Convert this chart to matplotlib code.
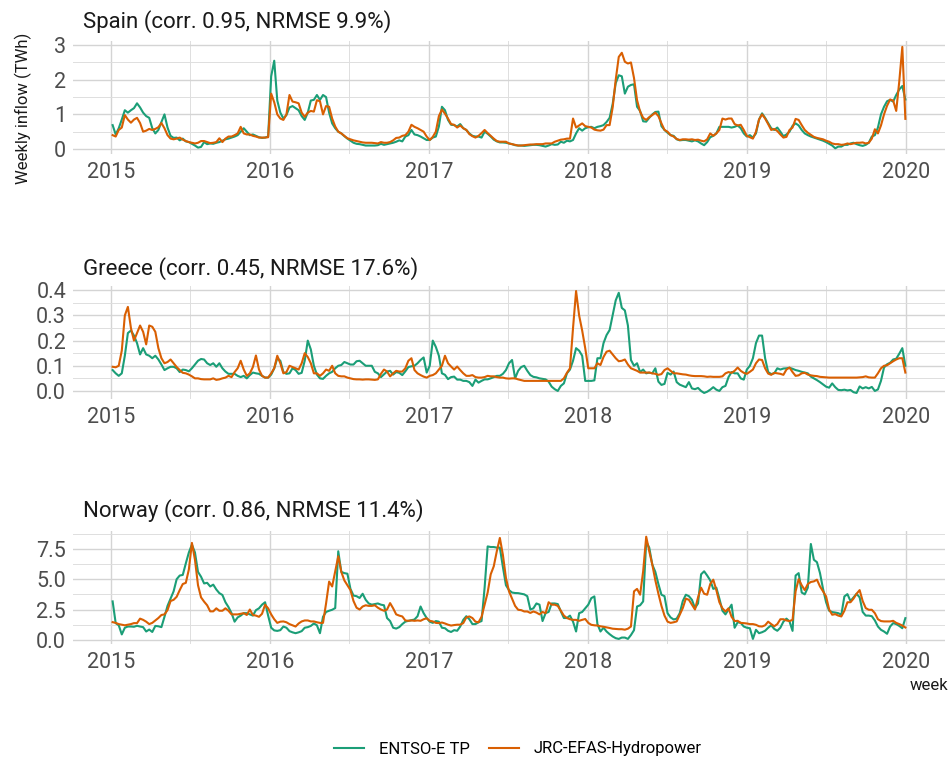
import matplotlib
matplotlib.use('Agg')
import matplotlib.pyplot as plt
import matplotlib.dates as mdates
from matplotlib.ticker import FixedLocator, FormatStrFormatter
import pandas as pd

plt.rcParams['font.family'] = ['Roboto', 'DejaVu Sans']

# weekly time axis (Mondays)
weeks = pd.date_range('2015-01-05', '2019-12-30', freq='W-MON')

# ---- Spain (TWh) ----
spain_entsoe = [
    # 2015
    0.69, 0.42, 0.6, 0.85, 1.12, 1.05, 1.12, 1.18, 1.32, 1.2, 1.05, 0.95, 0.9, 0.6, 0.45, 0.55, 0.78, 1.0,
    0.62, 0.38, 0.32, 0.33, 0.25, 0.3, 0.22, 0.2, 0.15, 0.1, 0.04, 0.06, 0.2, 0.14, 0.16, 0.15, 0.18, 0.2,
    0.24, 0.28, 0.3, 0.33, 0.36, 0.4, 0.5, 0.6, 0.5, 0.4, 0.42, 0.38, 0.34, 0.32, 0.33, 0.36,
    # 2016
    2.1, 2.55, 1.4, 1.05, 0.88, 0.98, 1.2, 1.24, 1.18, 1.12, 0.95, 0.84, 1.05, 1.4, 1.42, 1.56, 1.42, 1.56,
    1.5, 1.05, 0.74, 0.6, 0.5, 0.45, 0.37, 0.3, 0.24, 0.18, 0.15, 0.14, 0.12, 0.1, 0.1, 0.1, 0.1, 0.11,
    0.15, 0.12, 0.14, 0.16, 0.18, 0.21, 0.25, 0.22, 0.36, 0.4, 0.55, 0.42, 0.4, 0.36, 0.31, 0.26,
    # 2017
    0.26, 0.33, 0.36, 0.65, 1.22, 1.12, 0.84, 0.7, 0.69, 0.65, 0.72, 0.6, 0.55, 0.45, 0.38, 0.36, 0.36, 0.33,
    0.5, 0.44, 0.36, 0.27, 0.22, 0.19, 0.19, 0.18, 0.16, 0.14, 0.11, 0.1, 0.1, 0.09, 0.1, 0.11, 0.12, 0.12,
    0.11, 0.09, 0.07, 0.1, 0.14, 0.12, 0.13, 0.21, 0.18, 0.24, 0.22, 0.26, 0.45, 0.6, 0.53, 0.6,
    # 2018
    0.63, 0.64, 0.6, 0.64, 0.66, 0.69, 0.78, 0.9, 1.3, 1.9, 2.13, 2.1, 1.6, 1.8, 1.85, 1.87, 1.22, 1.1,
    0.8, 0.79, 0.9, 1.0, 1.07, 1.08, 0.66, 0.55, 0.47, 0.4, 0.38, 0.28, 0.25, 0.26, 0.26, 0.24, 0.22, 0.25,
    0.22, 0.16, 0.11, 0.2, 0.34, 0.38, 0.45, 0.64, 0.64, 0.64, 0.64, 0.62, 0.64, 0.68, 0.6, 0.45, 0.36,
    # 2019
    0.4, 0.33, 0.45, 0.85, 1.03, 0.9, 0.75, 0.6, 0.55, 0.62, 0.5, 0.37, 0.42, 0.5, 0.67, 0.74, 0.68, 0.55,
    0.45, 0.4, 0.36, 0.33, 0.3, 0.27, 0.24, 0.2, 0.15, 0.1, 0.02, 0.07, 0.07, 0.12, 0.12, 0.16, 0.18, 0.14,
    0.11, 0.09, 0.12, 0.18, 0.36, 0.4, 0.62, 1.0, 1.22, 1.38, 1.42, 1.37, 1.56, 1.72, 1.82, 1.43,
]
spain_jrc = [
    # 2015
    0.4, 0.36, 0.55, 0.62, 0.98, 0.85, 0.76, 0.85, 0.9, 0.75, 0.5, 0.53, 0.58, 0.55, 0.58, 0.63, 0.75, 0.6,
    0.4, 0.3, 0.28, 0.3, 0.33, 0.27, 0.23, 0.2, 0.18, 0.16, 0.18, 0.23, 0.23, 0.2, 0.17, 0.18, 0.2, 0.31,
    0.2, 0.3, 0.36, 0.36, 0.4, 0.45, 0.64, 0.45, 0.42, 0.42, 0.38, 0.36, 0.33, 0.33, 0.33, 0.34,
    # 2016
    1.6, 1.35, 1.0, 0.88, 0.84, 1.0, 1.56, 1.37, 1.35, 1.32, 1.05, 0.93, 1.05, 1.1, 1.08, 1.41, 1.38, 1.0,
    1.24, 1.22, 0.88, 0.65, 0.5, 0.45, 0.38, 0.31, 0.28, 0.25, 0.23, 0.21, 0.19, 0.18, 0.18, 0.18, 0.17, 0.16,
    0.2, 0.18, 0.18, 0.2, 0.25, 0.32, 0.33, 0.38, 0.4, 0.5, 0.7, 0.64, 0.6, 0.55, 0.5, 0.36,
    # 2017
    0.26, 0.35, 0.5, 0.95, 1.14, 1.02, 0.88, 0.72, 0.7, 0.62, 0.68, 0.6, 0.55, 0.43, 0.37, 0.33, 0.38, 0.46,
    0.55, 0.46, 0.38, 0.3, 0.23, 0.21, 0.21, 0.21, 0.16, 0.14, 0.12, 0.1, 0.1, 0.11, 0.12, 0.13, 0.13, 0.14,
    0.14, 0.14, 0.16, 0.16, 0.16, 0.21, 0.24, 0.27, 0.28, 0.3, 0.3, 0.88, 0.62, 0.68, 0.74, 0.66,
    # 2018
    0.64, 0.62, 0.56, 0.54, 0.53, 0.56, 0.69, 0.69, 1.2, 2.0, 2.66, 2.78, 2.52, 2.47, 2.5, 2.05, 1.41, 1.08,
    0.9, 0.84, 0.92, 0.98, 1.05, 0.95, 0.74, 0.55, 0.5, 0.4, 0.36, 0.29, 0.26, 0.28, 0.28, 0.27, 0.28, 0.26,
    0.27, 0.24, 0.22, 0.28, 0.45, 0.38, 0.45, 0.55, 0.88, 0.85, 0.88, 0.88, 0.72, 0.68, 0.7, 0.55, 0.38,
    # 2019
    0.34, 0.3, 0.5, 0.85, 1.0, 0.88, 0.72, 0.55, 0.58, 0.52, 0.42, 0.33, 0.35, 0.55, 0.62, 0.87, 0.84, 0.69,
    0.55, 0.47, 0.41, 0.35, 0.32, 0.3, 0.28, 0.24, 0.21, 0.16, 0.14, 0.14, 0.12, 0.13, 0.16, 0.14, 0.16, 0.18,
    0.18, 0.19, 0.16, 0.18, 0.3, 0.57, 0.45, 0.68, 1.0, 1.25, 1.43, 1.4, 1.1, 1.95, 2.95, 0.87,
]

# ---- Greece (TWh) ----
greece_entsoe = [
    # 2015
    0.083, 0.07, 0.06, 0.07, 0.14, 0.23, 0.24, 0.22, 0.19, 0.145, 0.17, 0.145, 0.14, 0.13, 0.14, 0.125,
    0.105, 0.083, 0.09, 0.096, 0.096, 0.09, 0.075, 0.085, 0.083, 0.078, 0.09, 0.105, 0.12, 0.127, 0.125,
    0.11, 0.103, 0.11, 0.096, 0.11, 0.09, 0.077, 0.068, 0.068, 0.068, 0.06, 0.055, 0.06, 0.05, 0.063,
    0.073, 0.07, 0.068, 0.06, 0.053, 0.053,
    # 2016
    0.065, 0.09, 0.13, 0.12, 0.075, 0.068, 0.07, 0.09, 0.083, 0.068, 0.072, 0.12, 0.2, 0.165, 0.1, 0.065,
    0.05, 0.048, 0.06, 0.07, 0.076, 0.09, 0.1, 0.103, 0.115, 0.11, 0.105, 0.105, 0.118, 0.12, 0.11, 0.1,
    0.1, 0.1, 0.076, 0.07, 0.055, 0.066, 0.077, 0.08, 0.065, 0.075, 0.072, 0.063, 0.078, 0.095, 0.098,
    0.1, 0.11, 0.123, 0.133, 0.073,
    # 2017
    0.1, 0.2, 0.175, 0.14, 0.07, 0.064, 0.047, 0.055, 0.057, 0.045, 0.045, 0.04, 0.04, 0.035, 0.02, 0.045,
    0.033, 0.04, 0.046, 0.046, 0.05, 0.055, 0.06, 0.06, 0.068, 0.083, 0.11, 0.123, 0.05, 0.08, 0.095, 0.1,
    0.08, 0.063, 0.056, 0.054, 0.05, 0.048, 0.046, 0.037, 0.017, 0.007, 0.0, 0.02, 0.03, 0.07, 0.085,
    0.12, 0.17, 0.16, 0.14, 0.04,
    # 2018
    0.04, 0.04, 0.042, 0.13, 0.13, 0.19, 0.222, 0.242, 0.3, 0.36, 0.39, 0.33, 0.32, 0.26, 0.123, 0.1, 0.11,
    0.075, 0.085, 0.07, 0.073, 0.07, 0.09, 0.037, 0.024, 0.028, 0.072, 0.065, 0.077, 0.035, 0.025, 0.02,
    0.015, 0.035, 0.01, 0.007, 0.012, 0.0, -0.008, -0.003, 0.005, 0.015, 0.005, 0.0, 0.015, 0.02, 0.055,
    0.075, 0.07, 0.07, 0.05, 0.045, 0.085,
    # 2019
    0.1, 0.13, 0.19, 0.22, 0.22, 0.13, 0.075, 0.067, 0.07, 0.09, 0.085, 0.089, 0.09, 0.092, 0.088, 0.083,
    0.08, 0.076, 0.073, 0.07, 0.057, 0.05, 0.043, 0.035, 0.026, 0.017, 0.013, 0.03, 0.015, 0.004, 0.003,
    0.005, 0.002, 0.004, -0.005, -0.008, 0.018, 0.01, 0.015, 0.01, 0.016, 0.0, 0.006, 0.04, 0.093, 0.106,
    0.112, 0.125, 0.128, 0.148, 0.17, 0.1,
]
greece_jrc = [
    # 2015
    0.096, 0.094, 0.1, 0.16, 0.3, 0.334, 0.25, 0.2, 0.23, 0.26, 0.235, 0.185, 0.26, 0.255, 0.235, 0.17,
    0.13, 0.11, 0.115, 0.125, 0.11, 0.095, 0.083, 0.072, 0.07, 0.065, 0.058, 0.05, 0.05, 0.047, 0.046,
    0.046, 0.046, 0.05, 0.044, 0.046, 0.05, 0.053, 0.06, 0.055, 0.075, 0.09, 0.12, 0.085, 0.06, 0.07,
    0.095, 0.141, 0.085, 0.06, 0.053, 0.053,
    # 2016
    0.07, 0.09, 0.14, 0.11, 0.07, 0.075, 0.1, 0.095, 0.09, 0.085, 0.11, 0.15, 0.135, 0.11, 0.07, 0.07,
    0.06, 0.07, 0.085, 0.08, 0.1, 0.07, 0.06, 0.058, 0.058, 0.053, 0.05, 0.047, 0.046, 0.046, 0.045, 0.046,
    0.046, 0.045, 0.044, 0.046, 0.068, 0.085, 0.077, 0.058, 0.07, 0.08, 0.077, 0.077, 0.09, 0.12, 0.13,
    0.083, 0.07, 0.063, 0.057, 0.053,
    # 2017
    0.06, 0.063, 0.07, 0.085, 0.1, 0.14, 0.11, 0.097, 0.085, 0.097, 0.083, 0.07, 0.06, 0.06, 0.063, 0.055,
    0.053, 0.053, 0.055, 0.06, 0.058, 0.058, 0.055, 0.053, 0.053, 0.05, 0.049, 0.05, 0.05, 0.046, 0.043,
    0.04, 0.04, 0.04, 0.04, 0.04, 0.04, 0.04, 0.04, 0.04, 0.04, 0.04, 0.04, 0.04, 0.05, 0.072, 0.09,
    0.25, 0.397, 0.3, 0.24, 0.17,
    # 2018
    0.09, 0.09, 0.09, 0.11, 0.103, 0.135, 0.156, 0.16, 0.145, 0.13, 0.118, 0.12, 0.125, 0.105, 0.09, 0.085,
    0.08, 0.073, 0.073, 0.073, 0.073, 0.07, 0.068, 0.064, 0.067, 0.083, 0.09, 0.08, 0.07, 0.07, 0.068,
    0.066, 0.065, 0.062, 0.06, 0.059, 0.059, 0.059, 0.058, 0.056, 0.057, 0.056, 0.056, 0.056, 0.058, 0.07,
    0.075, 0.072, 0.08, 0.093, 0.08, 0.072, 0.068,
    # 2019
    0.076, 0.085, 0.11, 0.125, 0.123, 0.09, 0.069, 0.064, 0.072, 0.07, 0.068, 0.064, 0.085, 0.093, 0.075,
    0.06, 0.062, 0.07, 0.072, 0.065, 0.062, 0.06, 0.059, 0.056, 0.055, 0.054, 0.053, 0.053, 0.053, 0.053,
    0.053, 0.053, 0.053, 0.053, 0.053, 0.053, 0.054, 0.055, 0.058, 0.054, 0.053, 0.053, 0.07, 0.09, 0.1,
    0.102, 0.11, 0.118, 0.125, 0.13, 0.13, 0.073,
]

# ---- Norway (TWh) ----
norway_entsoe = [
    # 2015
    3.17, 1.38, 1.2, 0.45, 1.0, 1.1, 1.1, 1.08, 1.16, 1.1, 1.05, 0.69, 0.85, 0.65, 1.15, 1.12, 1.05, 1.9,
    2.8, 3.4, 4.0, 5.0, 5.3, 5.35, 6.3, 7.2, 7.85, 7.2, 5.6, 5.2, 4.65, 4.7, 4.4, 4.55, 4.15, 3.85, 3.7,
    3.1, 2.7, 2.2, 1.5, 1.85, 2.0, 2.2, 2.2, 2.1, 2.0, 2.45, 2.6, 2.9, 3.1, 2.0,
    # 2016
    1.0, 0.78, 0.74, 0.8, 1.1, 1.0, 0.72, 0.62, 0.55, 0.62, 0.72, 1.0, 1.05, 1.15, 1.35, 1.2, 0.55, 1.9,
    2.3, 2.4, 2.48, 2.62, 7.3, 5.6, 5.5, 5.45, 4.2, 3.65, 3.6, 3.45, 3.8, 3.3, 3.0, 2.9, 2.95, 3.0, 2.9,
    2.85, 1.8, 1.55, 1.0, 0.93, 1.05, 1.3, 1.5, 1.57, 1.62, 1.68, 1.95, 2.75, 2.2, 1.8,
    # 2017
    1.5, 1.4, 1.55, 1.5, 1.0, 0.96, 0.75, 0.65, 0.8, 0.75, 1.1, 1.65, 1.95, 1.7, 1.3, 1.3, 1.45, 1.55,
    4.3, 7.7, 7.65, 7.65, 7.6, 7.6, 6.0, 4.5, 4.1, 3.9, 3.86, 3.85, 3.8, 3.75, 3.6, 2.5, 2.6, 3.0, 2.9,
    1.55, 2.2, 2.3, 3.0, 3.0, 2.95, 2.35, 1.8, 1.8, 2.0, 1.5, 0.69, 2.2, 2.3, 2.6,
    # 2018
    2.9, 3.44, 3.58, 1.3, 0.69, 1.0, 0.69, 0.47, 0.28, 0.14, 0.08, 0.19, 0.19, 0.08, 0.4, 0.8, 2.75, 2.85,
    3.17, 8.1, 7.6, 6.2, 5.6, 4.6, 3.72, 3.6, 2.2, 1.85, 1.68, 1.75, 2.2, 3.2, 3.72, 3.6, 3.3, 2.62, 3.0,
    5.4, 5.65, 5.3, 4.9, 4.2, 4.3, 3.4, 2.4, 2.1, 2.5, 2.9, 1.0, 1.45, 1.4, 1.1, 1.0,
    # 2019
    0.96, 0.08, 0.83, 0.55, 0.63, 0.75, 1.0, 1.2, 0.9, 0.75, 1.0, 1.5, 1.75, 1.52, 0.74, 5.3, 5.5, 3.9,
    3.75, 4.3, 7.9, 6.6, 6.4, 5.5, 4.2, 3.1, 2.4, 2.29, 2.25, 2.2, 2.07, 3.58, 3.77, 3.2, 3.5, 3.8, 3.5,
    2.3, 2.0, 2.0, 1.95, 1.6, 1.1, 0.83, 0.69, 0.5, 1.1, 1.38, 1.3, 1.15, 0.96, 1.79,
]
norway_jrc = [
    # 2015
    1.46, 1.4, 1.3, 1.25, 1.2, 1.25, 1.3, 1.38, 1.38, 1.75, 1.65, 1.5, 1.3, 1.4, 1.6, 1.8, 2.05, 2.1,
    2.45, 3.2, 3.3, 3.55, 4.1, 4.6, 4.7, 5.8, 7.99, 6.6, 4.5, 3.5, 3.15, 2.85, 2.35, 2.35, 2.6, 2.4, 2.4,
    2.6, 2.4, 2.1, 2.1, 2.1, 2.15, 2.2, 2.05, 2.5, 2.05, 2.0, 1.9, 2.15, 2.9, 2.6,
    # 2016
    2.1, 1.7, 1.4, 1.5, 1.52, 1.45, 1.3, 1.2, 1.1, 1.35, 1.52, 1.6, 1.6, 1.52, 1.52, 1.45, 1.4, 1.4,
    3.0, 4.8, 4.4, 5.65, 6.89, 5.6, 4.9, 4.5, 4.1, 3.2, 2.65, 2.5, 2.75, 2.85, 2.8, 2.8, 2.85, 2.65, 2.5,
    2.4, 2.5, 3.03, 2.6, 2.1, 2.0, 1.93, 1.6, 1.57, 1.6, 1.57, 1.6, 1.57, 1.7, 1.78,
    # 2017
    1.57, 1.52, 1.4, 1.38, 1.43, 1.35, 1.25, 1.18, 1.22, 1.25, 1.25, 1.38, 1.85, 1.93, 1.8, 1.5, 1.45, 1.9,
    2.9, 3.9, 5.4, 6.06, 7.3, 8.4, 7.0, 5.1, 4.0, 3.4, 2.8, 2.48, 2.45, 2.34, 2.34, 2.22, 2.34, 2.25, 2.1,
    2.3, 2.2, 3.1, 2.9, 2.9, 2.8, 2.4, 2.0, 1.8, 1.7, 1.65, 1.65, 1.57, 1.65, 1.72,
    # 2018
    1.4, 1.24, 1.2, 1.18, 1.12, 1.08, 1.03, 0.98, 0.92, 0.9, 0.88, 0.88, 0.84, 0.92, 1.1, 4.0, 4.2, 3.72,
    5.65, 8.5, 7.3, 6.2, 4.9, 3.8, 2.8, 2.0, 1.5, 1.4, 1.45, 1.52, 2.07, 2.62, 3.4, 3.3, 2.9, 2.5, 3.5,
    4.3, 3.8, 3.72, 4.6, 4.96, 4.1, 3.1, 2.6, 2.34, 2.6, 1.9, 1.55, 1.57, 1.4, 1.38, 1.35,
    # 2019
    1.3, 1.3, 1.24, 1.12, 1.1, 1.2, 1.5, 1.3, 1.12, 1.3, 1.7, 1.7, 1.6, 1.55, 1.65, 4.0, 5.0, 4.5,
    4.1, 4.6, 4.77, 4.82, 4.96, 4.4, 4.0, 3.58, 2.5, 2.07, 2.12, 2.0, 1.93, 2.4, 3.1, 3.1, 3.4, 3.8, 4.1,
    3.2, 2.62, 2.48, 2.48, 2.2, 1.7, 1.55, 1.52, 1.52, 1.52, 1.57, 1.4, 1.3, 1.18, 1.02,
]

titles = ['Spain (corr. 0.95, NRMSE 9.9%)',
          'Greece (corr. 0.45, NRMSE 17.6%)',
          'Norway (corr. 0.86, NRMSE 11.4%)']
series_entsoe = [spain_entsoe, greece_entsoe, norway_entsoe]
series_jrc = [spain_jrc, greece_jrc, norway_jrc]
labels = ['ENTSO-E TP', 'JRC-EFAS-Hydropower']

GREEN = '#1B9E77'
ORANGE = '#D95F02'

# per panel: y limits, major ticks, minor ticks, tick format, axes box in pixels (top, bottom)
panel_cfg = [
    dict(ylim=(-0.13, 3.12), major=[0, 1, 2, 3], minor=[0.5, 1.5, 2.5], fmt='%g', top=41, bottom=153.5, title_y=28),
    dict(ylim=(-0.032, 0.417), major=[0, 0.1, 0.2, 0.3, 0.4], minor=[0.05, 0.15, 0.25, 0.35], fmt='%.1f',
         top=286, bottom=399, title_y=275),
    dict(ylim=(-0.34, 8.97), major=[0, 2.5, 5, 7.5], minor=[1.25, 3.75, 6.25, 8.75], fmt='%.1f',
         top=531, bottom=644, title_y=517),
]

W, H = 950, 763
fig = plt.figure(figsize=(W / 100, H / 100), dpi=100)

axes = []
for i, cfg in enumerate(panel_cfg):
    assert len(series_entsoe[i]) == len(weeks) and len(series_jrc[i]) == len(weeks)
    ax = fig.add_axes([73 / W, 1 - cfg['bottom'] / H, 872 / W, (cfg['bottom'] - cfg['top']) / H])
    ax.plot(weeks, series_entsoe[i], color=GREEN, lw=1.5, label=labels[0])
    ax.plot(weeks, series_jrc[i], color=ORANGE, lw=1.5, label=labels[1])

    ax.margins(x=0.05)
    ax.set_ylim(*cfg['ylim'])
    ax.yaxis.set_major_locator(FixedLocator(cfg['major']))
    ax.yaxis.set_minor_locator(FixedLocator(cfg['minor']))
    ax.yaxis.set_major_formatter(FormatStrFormatter(cfg['fmt']))
    ax.xaxis.set_major_locator(mdates.YearLocator())
    ax.xaxis.set_minor_locator(mdates.MonthLocator(bymonth=7))
    ax.xaxis.set_major_formatter(mdates.DateFormatter('%Y'))

    ax.grid(True, which='major', color='#d4d4d4', lw=1.0)
    ax.grid(True, which='minor', color='#dedede', lw=0.7)
    ax.set_axisbelow(True)
    for s in ax.spines.values():
        s.set_visible(False)
    ax.tick_params(which='both', length=0)
    ax.tick_params(axis='x', labelsize=15.5, labelcolor='#4d4d4d', pad=6)
    ax.tick_params(axis='y', labelsize=15.5, labelcolor='#4d4d4d', pad=5)

    fig.text(83 / W, 1 - cfg['title_y'] / H, titles[i], fontsize=16, color='#1a1a1a',
             ha='left', va='baseline')
    axes.append(ax)

fig.text(23 / W, 1 - 108 / H, 'Weekly inflow (TWh)', rotation=90, fontsize=12,
         ha='center', va='center', color='#1a1a1a')
fig.text(948 / W, 1 - 686 / H, 'week', fontsize=12, ha='right', va='center', color='#1a1a1a')

handles, labs = axes[0].get_legend_handles_labels()
fig.legend(handles, labs, loc='center', bbox_to_anchor=(518 / W, 1 - 749 / H), ncol=2, frameon=False,
           fontsize=12, handlelength=1.75, handletextpad=0.9, columnspacing=1.2)

fig.savefig('out.png', dpi=100)
